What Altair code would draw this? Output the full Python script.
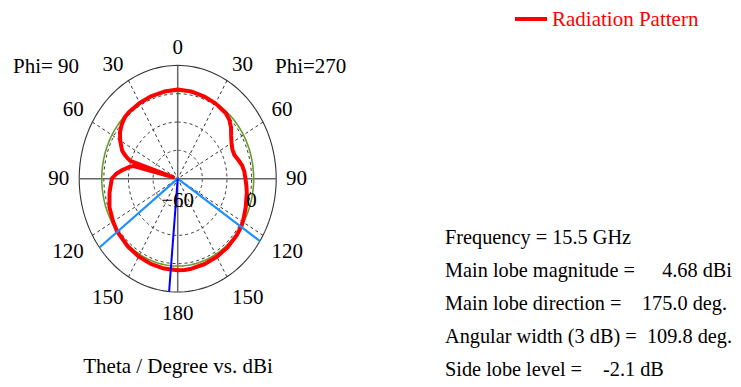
import altair as alt
import numpy as np
import pandas as pd

# ---------------- data ----------------
# screen angle (deg, clockwise from top; right half = Phi=270 side, left half = Phi=90 side)
ANGLE = [0, 10, 20, 30, 40, 45, 50, 55, 60, 65, 70, 75, 80, 85, 90, 95, 100, 110, 115,
         120, 123, 130, 140, 150, 160, 170, 175, 180, 190, 200, 210, 220, 233, 240, 250,
         260, 270, 274, 278, 282, 284, 286, 288, 290, 292, 294, 300, 305, 310, 315, 320,
         330, 340, 350, 360]
GAIN = [3.0, 2.6, 1.9, 1.4, 0.6, -0.8, -3.5, -7.0, -9.5, -11.0, -11.0, -9.0, -6.8, -5.6,
        -5.0, -4.0, -3.0, -1.2, -0.2, 1.0, 1.68, 2.4, 3.1, 3.6, 4.1, 4.55, 4.68, 4.65, 4.4,
        4.0, 3.4, 2.7, 1.68, 0.6, -1.0, -3.8, -6.5, -10.0, -15.0, -20.0, -23.0, -56.0,
        -19.5, -16.0, -13.0, -10.5, -6.0, -2.8, -0.6, 1.0, 1.5, 1.8, 2.1, 2.5, 3.0]

R_MIN, R_MAX = -60, 20
RING_DB = [-40, -20, 0]
MAIN_LOBE_DB = 4.68
HALF_POWER_DB = MAIN_LOBE_DB - 3
MAIN_DIR = 185          # theta 175 on the Phi=90 side
BEAM_EDGES = [123.4, 232.6]
SPOKES = [30, 60, 120, 150, 210, 240, 300, 330]
AXES = [0, 90, 180, 270]
TICK_ANGLES = [0, 30, 60, 90, 120, 150, 180, 210, 240, 270, 300, 330]
TICK_TEXT = ["0", "30", "60", "90", "120", "150", "180", "150", "120", "90", "60", "30"]
RADIAL_LABELS = [-60, 0]

INFO_LABELS = ["Frequency = 15.5 GHz", "Main lobe magnitude =", "Main lobe direction =",
               "Angular width (3 dB) =", "Side lobe level ="]
INFO_VALUES = ["", "4.68 dBi", "175.0 deg.", "109.8 deg.", "-2.1 dB"]

# ---------------- geometry / scales ----------------
W, H = 725, 371
CX, CY = 169.7, 170.7
RX, RY = 98.5, 113.3
X0 = -CX / RX
X1 = X0 + W / RX
Y1 = CY / RY
Y0 = Y1 - H / RY
xs = alt.Scale(domain=[X0, X1], nice=False, zero=False)
ys = alt.Scale(domain=[Y0, Y1], nice=False, zero=False)
FONT = "Liberation Serif"
FS = 21
FS_INFO = 20.3


def polar(ch, g="gain", a="angle", suffix=""):
    return ch.transform_calculate(
        **{
            "r" + suffix: f"(datum.{g} - {R_MIN}) / {R_MAX - R_MIN}",
            "x" + suffix: f"datum.r{suffix} * sin(datum.{a} * PI / 180)",
            "y" + suffix: f"datum.r{suffix} * cos(datum.{a} * PI / 180)",
        }
    )


circ_a = np.arange(0, 361, 2)
rings = pd.DataFrame([(lvl, a) for lvl in RING_DB for a in circ_a], columns=["gain", "angle"])
outer = pd.DataFrame({"gain": R_MAX, "angle": circ_a})
green = pd.DataFrame({"gain": HALF_POWER_DB, "angle": circ_a})

X = alt.X("x:Q", scale=xs, axis=None)
Y = alt.Y("y:Q", scale=ys, axis=None)

ring_layer = polar(alt.Chart(rings)).mark_line(
    stroke="#333333", strokeWidth=1, strokeDash=[3, 3]
).encode(x=X, y=Y, detail="gain:N", order="angle:Q")

outer_layer = polar(alt.Chart(outer)).mark_line(stroke="#333333", strokeWidth=1.1).encode(
    x=X, y=Y, order="angle:Q")


def radial_lines(angles, **style):
    df = pd.DataFrame({"angle": angles, "gin": R_MIN, "gout": R_MAX})
    ch = polar(alt.Chart(df), g="gout")
    ch = polar(ch, g="gin", suffix="0")
    return ch.mark_rule(**style).encode(x=X, y=Y, x2="x0:Q", y2="y0:Q")


spoke_layer = radial_lines(SPOKES, stroke="#333333", strokeWidth=1, strokeDash=[3, 3])
axis_layer = radial_lines(AXES, stroke="#666666", strokeWidth=1.5)

green_layer = polar(alt.Chart(green)).mark_line(stroke="#6b9a2e", strokeWidth=1.6).encode(
    x=X, y=Y, order="angle:Q")

pattern = pd.DataFrame({"angle": ANGLE, "gain": GAIN})
red_layer = polar(alt.Chart(pattern)).mark_line(
    stroke="#ff0000", strokeWidth=4, strokeJoin="round").encode(x=X, y=Y, order="angle:Q")

beam_layer = radial_lines(BEAM_EDGES, stroke="#1e8fff", strokeWidth=2.2)
main_layer = radial_lines([MAIN_DIR], stroke="#0000ff", strokeWidth=2)

# angle labels, anchored just outside the outer ring, text box placed outward
lab_df = pd.DataFrame({"angle": TICK_ANGLES, "t": TICK_TEXT})
lab_base = alt.Chart(lab_df).transform_calculate(
    x="1.1 * sin(datum.angle * PI / 180)",
    y="1.1 * cos(datum.angle * PI / 180)",
)
label_groups = [
    ("datum.angle == 0", "center", "alphabetic"),
    ("datum.angle > 0 && datum.angle < 90", "left", "alphabetic"),
    ("datum.angle == 90", "left", "middle"),
    ("datum.angle > 90 && datum.angle < 180", "left", "top"),
    ("datum.angle == 180", "center", "top"),
    ("datum.angle > 180 && datum.angle < 270", "right", "top"),
    ("datum.angle == 270", "right", "middle"),
    ("datum.angle > 270", "right", "alphabetic"),
]
label_layers = [
    lab_base.transform_filter(cond).mark_text(
        font=FONT, fontSize=FS, color="#000000", align=al, baseline=bl
    ).encode(x=X, y=Y, text="t:N")
    for cond, al, bl in label_groups
]

rad_df = pd.DataFrame({"gain": RADIAL_LABELS, "angle": 90})
rad_layer = polar(alt.Chart(rad_df)).transform_calculate(
    t="format(datum.gain, 'd')"
).mark_text(font=FONT, fontSize=FS, color="#000000", baseline="middle", align="center",
            dy=22).encode(x=X, y=Y, text="t:N")


def text_at(txt, x, y, color="#000000", align="left", baseline="alphabetic", size=FS):
    return alt.Chart(pd.DataFrame({"t": [txt]})).mark_text(
        font=FONT, fontSize=size, color=color, align=align, baseline=baseline
    ).encode(x=alt.value(x), y=alt.value(y), text="t:N")


texts = [
    text_at("Phi= 90", 13 - 8, 73 - 8),
    text_at("Phi=270", 275 - 8, 73 - 8),
    text_at("Theta / Degree vs. dBi", 178 - 8, 373 - 8, align="center"),
    text_at("Radiation Pattern", 552 - 8, 26 - 8, color="#ff0000"),
]
base_lines = [244, 277, 310, 343, 376]
value_pos = [None, (732, "right"), (727, "right"), (732, "right"), (603, "left")]
for lab, val, b, vp in zip(INFO_LABELS, INFO_VALUES, base_lines, value_pos):
    texts.append(text_at(lab, 445 - 8, b - 8, size=FS_INFO))
    if val:
        texts.append(text_at(val, vp[0] - 8, b - 8, align=vp[1], size=FS_INFO))

legend_line = alt.Chart(pd.DataFrame({"k": [0]})).mark_rule(
    stroke="#ff0000", strokeWidth=4).encode(
    x=alt.value(515 - 8), x2=alt.value(547 - 8), y=alt.value(19 - 8))

chart = alt.layer(
    ring_layer, spoke_layer, outer_layer, axis_layer, green_layer, red_layer,
    beam_layer, main_layer, *label_layers, rad_layer, legend_line, *texts
).properties(width=W, height=H, padding=0, autosize="none").configure_view(stroke=None)

chart.save("out.html", embed_options={"renderer": "svg", "actions": False})
